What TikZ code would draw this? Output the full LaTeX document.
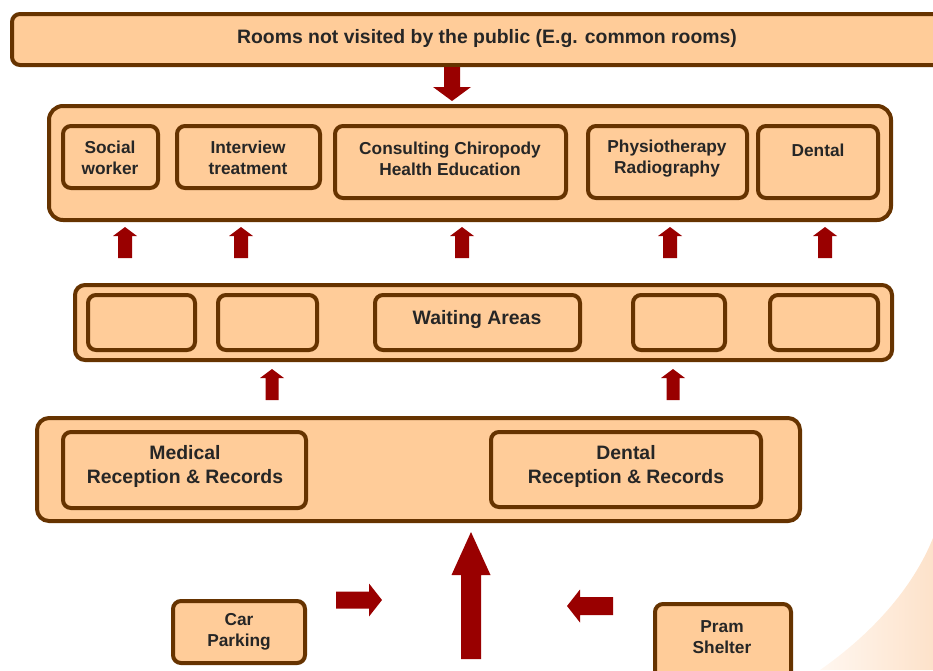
\documentclass[tikz,border=0pt]{standalone}
\usepackage{fontspec}
\setmainfont{Liberation Sans}
\definecolor{roomfill}{HTML}{FFCC99}
\definecolor{roomline}{HTML}{663300}
\definecolor{flowred}{HTML}{990000}
\definecolor{labelgray}{HTML}{262626}
\definecolor{swooshlight}{HTML}{FFF7F0}
\definecolor{swooshdark}{HTML}{FDE2CA}

\tikzset{
  panel/.style={draw=roomline, fill=roomfill, line width=4pt, rounded corners=12pt, inner sep=0pt},
  room/.style={draw=roomline, fill=roomfill, line width=4pt, rounded corners=8pt, inner sep=0pt},
  lbl/.style={text=labelgray, font=\bfseries\fontsize{17.3}{21}\selectfont, align=center, inner sep=0pt},
  biglbl/.style={lbl, font=\bfseries\fontsize{19.4}{24}\selectfont},
}

% box given by its outer corners (x1,y1) and (x2,y2)
\newcommand\placebox[6]{%
  \node[#1, minimum width={#5-#3-4}, minimum height={#6-#4-4}] (#2)
    at ({(#3+#5)/2},{(#4+#6)/2}) {};}

% block arrow: tip, direction, length, shaft width, head width, head length
\newcommand\blockarrow[6]{%
  \fill[flowred, shift={(#1)}, rotate=#2]
    (0,0) -- (-#6,{#5/2}) -- (-#6,{#4/2}) -- (-#3,{#4/2})
    -- (-#3,{-#4/2}) -- (-#6,{-#4/2}) -- (-#6,{-#5/2}) -- cycle;}

\begin{document}
\begin{tikzpicture}[x=1pt, y=-1pt]
  \useasboundingbox (0,0) rectangle (933,670);
  \clip (0,0) rectangle (933,670);

  % soft background swoosh in the lower right corner
  \shade[left color=swooshlight, right color=swooshdark]
    (933,538) .. controls (912,590) and (870,635) .. (820,670) -- (933,670) -- cycle;

  % top banner
  \placebox{panel, rounded corners=8pt}{rooms}{10}{12}{952}{67}
  \node[biglbl] (roomstxt) at (487,39) {Rooms not visited by the public (E.g. common rooms)};

  % treatment rooms
  \placebox{panel, rounded corners=14pt}{treat}{47}{104}{893}{222}
  \placebox{room}{social}{61}{124}{160}{190}
  \placebox{room}{interview}{175}{124}{322}{190}
  \placebox{room}{consult}{333}{124}{568}{200}
  \placebox{room}{physio}{586}{124}{749}{200}
  \placebox{room}{dental}{756}{124}{880}{200}
  \node[lbl] (socialtxt) at (110,158) {Social\\worker};
  \node[lbl] (interviewtxt) at (248,158) {Interview\\treatment};
  \node[lbl] (consulttxt) at (450,159) {Consulting Chiropody\\Health Education};
  \node[lbl] (physiotxt) at (667,159) {Physiotherapy\\Radiography};
  \node[lbl] (dentaltxt) at (818,150) {Dental};

  % waiting areas
  \placebox{panel, rounded corners=10pt}{waitrow}{73}{283}{894}{362}
  \placebox{room}{waitA}{86}{293}{197}{352}
  \placebox{room}{waitB}{216}{293}{319}{352}
  \placebox{room}{waiting}{373}{293}{582}{352}
  \placebox{room}{waitC}{631}{293}{727}{352}
  \placebox{room}{waitD}{768}{293}{880}{352}
  \node[biglbl] (waitingtxt) at (477,320) {Waiting Areas};

  % reception
  \placebox{panel, rounded corners=12pt}{recept}{35}{416}{802}{523}
  \placebox{room}{medrec}{61}{430}{308}{510}
  \placebox{room}{dentrec}{489}{430}{763}{509}
  \node[biglbl] (medrectxt) at (185,466) {Medical\\Reception \& Records};
  \node[biglbl] (dentrectxt) at (626,466) {Dental\\Reception \& Records};

  % outside facilities
  \placebox{room}{car}{171}{599}{307}{665}
  \placebox{room}{pram}{653}{602}{793}{692}
  \node[lbl] (cartxt) at (239,632) {Car\\Parking};
  \node[lbl] (pramtxt) at (722,637) {Pram\\Shelter};

  % flow arrows
  \blockarrow{452,101}{-90}{34}{16}{38}{14}
  \foreach \ax in {125,241,462,670,825}{
    \blockarrow{\ax,227}{90}{31}{14}{24}{9}
  }
  \foreach \ax in {272,673}{
    \blockarrow{\ax,369}{90}{31}{13}{24}{9}
  }
  \blockarrow{471,532}{90}{127}{20}{39}{43}
  \blockarrow{382,600}{0}{46}{17}{33}{13}
  \blockarrow{567,606}{180}{46}{18}{33}{13}
\end{tikzpicture}
\end{document}
